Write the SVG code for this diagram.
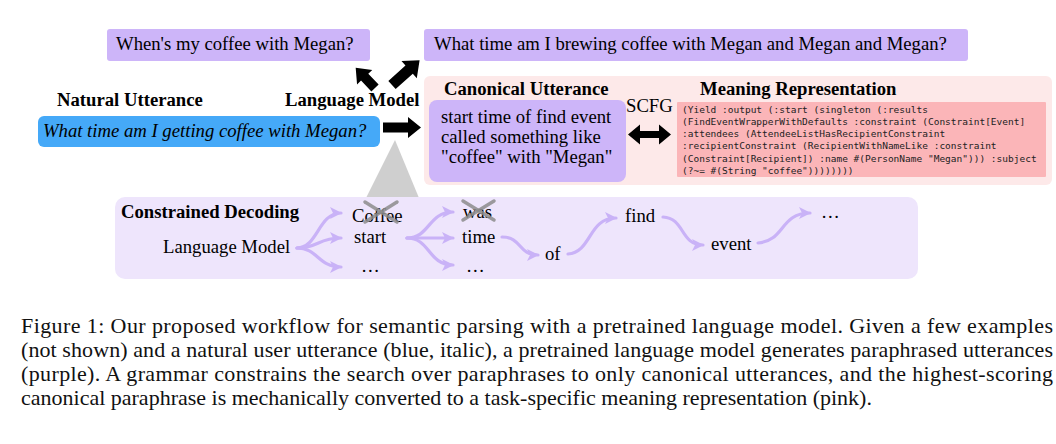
<svg xmlns="http://www.w3.org/2000/svg" width="1056" height="444" viewBox="0 0 1056 444">
<defs>
<style>
.t{font-family:"Liberation Serif","Times New Roman",serif;font-size:18.7px;fill:#000}
.b{font-weight:bold}
.i{font-style:italic}
.m{font-family:"DejaVu Sans Mono","Liberation Mono",monospace;font-size:9.5px;fill:#222}
.cap{font-family:"Liberation Serif","Times New Roman",serif;font-size:22px;fill:#111}
.pu{fill:#cdb5f9}
.fl{fill:none;stroke:#c9b2f7;stroke-width:3.2;stroke-linecap:round}
.x{stroke:#8c8c8c;stroke-width:3.5;stroke-opacity:0.85;stroke-linecap:round}
.blk{fill:#000}
</style>
<marker id="ah" markerUnits="userSpaceOnUse" markerWidth="14" markerHeight="14" refX="11" refY="6" orient="auto">
<path d="M0,0 L12,6 L0,12 L3,6 Z" fill="#c9b2f7"/>
</marker>
</defs>
<rect width="1056" height="444" fill="#fff"/>

<g id="paraphrase1">
<rect class="pu" x="107" y="29" width="263" height="32" rx="3"/>
<text class="t" x="116" y="50">When's my coffee with Megan?</text>
</g>

<g id="paraphrase2">
<rect class="pu" x="424" y="29" width="544" height="32" rx="3"/>
<text class="t" x="434" y="50">What time am I brewing coffee with Megan and Megan and Megan?</text>
</g>

<g id="natural-utterance">
<text class="t b" x="57" y="106">Natural Utterance</text>
<rect x="38" y="116" width="342" height="31" rx="6" fill="#45a9f8"/>
<text class="t i" x="43" y="137">What time am I getting coffee with Megan?</text>
</g>

<g id="language-model">
<text class="t b" x="285" y="106">Language Model</text>
<polygon fill="#cfcfcf" points="395,140 366,198 419,198"/>
</g>

<g id="canonical-panel">
<rect x="424" y="76" width="628" height="109" rx="6" fill="#fde9e9"/>
<text class="t b" x="444" y="95">Canonical Utterance</text>
<rect class="pu" x="429" y="100" width="197" height="82" rx="8"/>
<text class="t" x="441" y="123">start time of find event</text>
<text class="t" x="441" y="143">called something like</text>
<text class="t" x="441" y="163">"coffee" with "Megan"</text>
</g>

<g id="scfg">
<text class="t" x="626" y="112">SCFG</text>
</g>

<g id="meaning-representation">
<text class="t b" x="700" y="95">Meaning Representation</text>
<rect x="677" y="102" width="369" height="75" rx="1" fill="#fbb5b8"/>
<text class="m" x="682" y="113">(Yield :output (:start (singleton (:results</text>
<text class="m" x="682" y="125">(FindEventWrapperWithDefaults :constraint (Constraint[Event]</text>
<text class="m" x="682" y="137">:attendees (AttendeeListHasRecipientConstraint</text>
<text class="m" x="682" y="149">:recipientConstraint (RecipientWithNameLike :constraint</text>
<text class="m" x="682" y="161.5">(Constraint[Recipient]) :name #(PersonName "Megan"))) :subject</text>
<text class="m" x="682" y="173.5">(?~= #(String "coffee"))))))))</text>
</g>

<g id="constrained-decoding">
<rect x="115" y="197" width="803" height="82" rx="10" fill="#eee5fc"/>
<text class="t b" x="121" y="218">Constrained Decoding</text>
<text class="t" x="163" y="253">Language Model</text>
<text class="t" x="352" y="222">Coffee</text>
<text class="t" x="354" y="243">start</text>
<text class="t" x="361" y="272">…</text>
<text class="t" x="463" y="218">was</text>
<text class="t" x="462" y="243">time</text>
<text class="t" x="466" y="272">…</text>
<text class="t" x="545" y="260">of</text>
<text class="t" x="625" y="222">find</text>
<text class="t" x="711" y="250">event</text>
<text class="t" x="821" y="218">…</text>
<line class="x" x1="365" y1="202" x2="397" y2="222"/>
<line class="x" x1="397" y1="202" x2="365" y2="222"/>
<line class="x" x1="463" y1="201" x2="494" y2="220"/>
<line class="x" x1="494" y1="201" x2="463" y2="220"/>
</g>

<g id="connectors">
<polygon class="blk" points="383,122.5 408,122.5 408,117 421,127.5 408,138 408,132.5 383,132.5"/>
<polygon class="blk" transform="translate(375,88) rotate(-133.6)" points="0,-5 15,-5 15,-10.5 28,0 15,10.5 15,5 0,5"/>
<polygon class="blk" transform="translate(392,85) rotate(-41.8)" points="0,-5.5 23,-5.5 23,-11.5 37,0 23,11.5 23,5.5 0,5.5"/>
<polygon class="blk" points="628,134.5 640,124.5 640,131 659,131 659,124.5 671,134.5 659,144.5 659,138 640,138 640,144.5"/>
<path class="fl" marker-end="url(#ah)" d="M297,248 C318,248 318,213 341,213"/>
<path class="fl" marker-end="url(#ah)" d="M297,248 C318,248 318,238 341,238"/>
<path class="fl" marker-end="url(#ah)" d="M297,248 C318,248 318,267 341,267"/>
<path class="fl" marker-end="url(#ah)" d="M407,238 C430,238 428,212 453,212"/>
<path class="fl" marker-end="url(#ah)" d="M407,238 L453,238"/>
<path class="fl" marker-end="url(#ah)" d="M407,238 C430,238 428,265 453,265"/>
<path class="fl" marker-end="url(#ah)" d="M502,237 C522,237 518,255 538,255"/>
<path class="fl" marker-end="url(#ah)" d="M568,254 C592,252 588,218 616,218"/>
<path class="fl" marker-end="url(#ah)" d="M663,217 C685,218 680,245 703,245"/>
<path class="fl" marker-end="url(#ah)" d="M758,243 C785,241 780,213 810,213"/>
</g>

<g id="caption">
<text class="cap" x="21" y="333" textLength="1032" lengthAdjust="spacing">Figure 1:  Our proposed workflow for semantic parsing with a pretrained language model.  Given a few examples</text>
<text class="cap" x="21" y="357" textLength="1032" lengthAdjust="spacing">(not shown) and a natural user utterance (blue, italic), a pretrained language model generates paraphrased utterances</text>
<text class="cap" x="21" y="381" textLength="1032" lengthAdjust="spacing">(purple).  A grammar constrains the search over paraphrases to only canonical utterances, and the highest-scoring</text>
<text class="cap" x="21" y="405">canonical paraphrase is mechanically converted to a task-specific meaning representation (pink).</text>
</g>
</svg>
